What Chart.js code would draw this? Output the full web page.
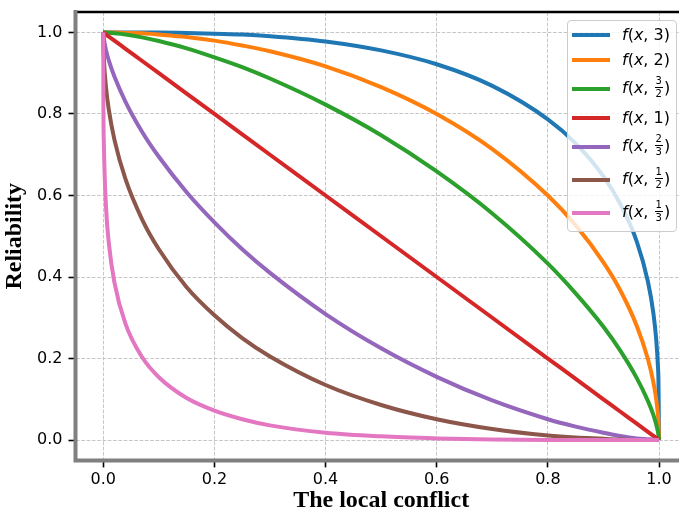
<!DOCTYPE html>
<html>
<head>
<meta charset="utf-8">
<title>Reliability vs local conflict</title>
<script src="https://cdn.jsdelivr.net/npm/chart.js@4.4.0/dist/chart.umd.min.js"></script>
<style>
    html, body { margin: 0; padding: 0; background: #fff; overflow: hidden; }
    #wrap { position: relative; width: 679px; height: 513px; overflow: hidden; }
    #plot { position: absolute; left: 0; top: 0; }
    .legend {
        position: absolute; left: 567px; top: 20px; width: 110px; height: 212px;
        box-sizing: border-box; border: 1px solid #cccccc; border-radius: 4px;
        background: rgba(255, 255, 255, 0.8); padding-top: 1px;
        font-family: "DejaVu Sans", sans-serif; font-size: 16px; color: #000;
    }
    .legend .row { display: flex; align-items: center; height: 25px; }
    .legend .row.tall { height: 33px; }
    .legend .swatch { width: 38px; height: 4px; margin-left: 4px; margin-right: 12px; }
    .legend .label { white-space: nowrap; line-height: 1; }
    .legend i { font-style: italic; }
    .frac {
        display: inline-flex; flex-direction: column; align-items: center;
        font-size: 10px; line-height: 1; vertical-align: middle; margin: 0 1px;
        position: relative; top: -1px;
    }
    .frac .num { border-bottom: 1px solid #000; padding: 0 1px 1px; }
    .frac .den { padding-top: 1px; }
</style>
</head>
<body>
<div id="wrap">
    <canvas id="plot" width="690" height="513"></canvas>
    <div class="legend" id="legend"></div>
</div>
<script>
// Sample positions along the local conflict axis
const conflictX = [0, 0.0002, 0.001, 0.005, 0.01, 0.02, 0.04, 0.07, 0.1, 0.15, 0.2, 0.25, 0.3,
    0.4, 0.5, 0.6, 0.7, 0.8, 0.85, 0.9, 0.93, 0.96, 0.98, 0.99, 0.995, 0.998, 0.999, 1];

// Reliability curves, one per parameter
const relK3 = [1, 1, 1, 1, 1, 1, 1, 1, 1, 0.999, 0.997, 0.995, 0.991, 0.978, 0.956, 0.922,
    0.869, 0.787, 0.728, 0.647, 0.580, 0.487, 0.389, 0.310, 0.246, 0.182, 0.144, 0];
const relK2 = [1, 1, 1, 1, 1, 1, 0.999, 0.998, 0.995, 0.989, 0.980, 0.968, 0.954, 0.917, 0.866,
    0.800, 0.714, 0.600, 0.527, 0.436, 0.368, 0.280, 0.199, 0.141, 0.100, 0.063, 0.045, 0];
const relK3over2 = [1, 1, 1, 1, 0.999, 0.998, 0.995, 0.988, 0.979, 0.961, 0.939, 0.915, 0.887,
    0.823, 0.748, 0.659, 0.556, 0.433, 0.360, 0.278, 0.220, 0.152, 0.096, 0.061, 0.038, 0.021, 0.013, 0];
const relK1 = [1, 1, 0.999, 0.995, 0.99, 0.98, 0.96, 0.93, 0.9, 0.85, 0.8, 0.75, 0.7, 0.6, 0.5,
    0.4, 0.3, 0.2, 0.15, 0.1, 0.07, 0.04, 0.02, 0.01, 0.005, 0.002, 0.001, 0];
const relK2over3 = [1, 0.995, 0.985, 0.956, 0.931, 0.892, 0.830, 0.756, 0.695, 0.608, 0.534,
    0.468, 0.410, 0.309, 0.225, 0.155, 0.097, 0.051, 0.033, 0.018, 0.010, 0.004, 0.002, 0.001, 0, 0, 0, 0];
const relK1over2 = [1, 0.972, 0.938, 0.864, 0.810, 0.737, 0.640, 0.541, 0.468, 0.375, 0.306,
    0.250, 0.205, 0.135, 0.086, 0.051, 0.027, 0.011, 0.006, 0.003, 0.001, 0, 0, 0, 0, 0, 0, 0];
const relK1over3 = [1, 0.835, 0.729, 0.570, 0.483, 0.387, 0.285, 0.203, 0.154, 0.103, 0.072,
    0.051, 0.036, 0.018, 0.009, 0.004, 0.001, 0, 0, 0, 0, 0, 0, 0, 0, 0, 0, 0];

const seriesValues = [relK3, relK2, relK3over2, relK1, relK2over3, relK1over2, relK1over3];
const seriesParams = ['3', '2', '3/2', '1', '2/3', '1/2', '1/3'];
const seriesColors = ['#1f77b4', '#ff7f0e', '#2ca02c', '#d62728', '#9467bd', '#8c564b', '#e377c2'];

const xTicks = [0, 0.2, 0.4, 0.6, 0.8, 1.0];
const yTicks = [0, 0.2, 0.4, 0.6, 0.8, 1.0];

/**
 * Draws the axes frame: thin black top edge, thick grey left and bottom edges
 */
const spinesPlugin = {
    id: 'spines',
    afterDraw(chart) {
        const { ctx, chartArea: a } = chart;
        ctx.save();
        ctx.lineCap = 'butt';
        ctx.lineJoin = 'miter';
        ctx.strokeStyle = '#000';
        ctx.lineWidth = 2.5;
        ctx.beginPath();
        ctx.moveTo(a.left, a.top);
        ctx.lineTo(a.right + 2, a.top);
        ctx.stroke();

        ctx.strokeStyle = '#808080';
        ctx.lineWidth = 4;
        ctx.beginPath();
        ctx.moveTo(a.left, a.top - 2);
        ctx.lineTo(a.left, a.bottom);
        ctx.lineTo(a.right + 2, a.bottom);
        ctx.stroke();
        ctx.restore();
    }
};

/**
 * Builds the legend entries, stacking fractional parameters
 */
function renderLegend() {
    const box = document.getElementById('legend');
    seriesParams.forEach((param, i) => {
        const row = document.createElement('div');
        const isFrac = param.includes('/');
        row.className = isFrac ? 'row tall' : 'row';

        const swatch = document.createElement('div');
        swatch.className = 'swatch';
        swatch.style.background = seriesColors[i];
        row.appendChild(swatch);

        const label = document.createElement('span');
        label.className = 'label';
        let paramHtml = param;
        if (isFrac) {
            const [num, den] = param.split('/');
            paramHtml = `<span class="frac"><span class="num">${num}</span><span class="den">${den}</span></span>`;
        }
        label.innerHTML = `<i>f</i>(<i>x</i>, ${paramHtml})`;
        row.appendChild(label);
        box.appendChild(row);
    });
}

const tickFont = { family: 'DejaVu Sans', size: 16 };
const titleFont = { family: 'Liberation Serif', size: 24, weight: 'bold', lineHeight: 1 };

const datasets = seriesValues.map((values, i) => ({
    label: `f(x, ${seriesParams[i]})`,
    data: conflictX.map((x, j) => ({ x: x, y: values[j] })),
    borderColor: seriesColors[i],
    backgroundColor: seriesColors[i],
    borderWidth: 4,
    borderJoinStyle: 'round',
    pointRadius: 0,
    cubicInterpolationMode: 'monotone',
    fill: false,
    // later series sit on top
    order: seriesValues.length - i
}));

// Keep the plot box fixed: no extra room reserved for edge tick labels
function dropLabelPadding(scale) {
    scale.paddingTop = 0;
    scale.paddingBottom = 0;
    scale.paddingLeft = 0;
    scale.paddingRight = 0;
}

new Chart(document.getElementById('plot').getContext('2d'), {
    type: 'line',
    data: { datasets: datasets },
    plugins: [spinesPlugin],
    options: {
        responsive: false,
        animation: false,
        devicePixelRatio: 1,
        layout: { padding: { left: 0, right: 3.2, top: 12.1, bottom: 0 } },
        plugins: {
            legend: { display: false },
            tooltip: { enabled: false }
        },
        scales: {
            x: {
                type: 'linear',
                min: -0.05,
                max: 1.05,
                afterBuildTicks: (scale) => { scale.ticks = xTicks.map(v => ({ value: v })); },
                afterFit: (scale) => { scale.height = 52.6; dropLabelPadding(scale); },
                grid: { color: '#c6c6c6', lineWidth: 1, tickLength: 7, tickColor: '#000', tickWidth: 1.6 },
                border: { display: false, dash: [3.7, 1.6] },
                ticks: {
                    font: tickFont, color: '#000', padding: 3, maxRotation: 0,
                    callback: (v) => Number(v).toFixed(1)
                },
                title: {
                    display: true, text: 'The local conflict', color: '#000',
                    font: titleFont, padding: { top: 0, bottom: 0 }
                }
            },
            y: {
                type: 'linear',
                min: -0.05,
                max: 1.05,
                afterBuildTicks: (scale) => { scale.ticks = yTicks.map(v => ({ value: v })); },
                afterFit: (scale) => { scale.width = 75.5; dropLabelPadding(scale); },
                grid: { color: '#c6c6c6', lineWidth: 1, tickLength: 7, tickColor: '#000', tickWidth: 1.6 },
                border: { display: false, dash: [3.7, 1.6] },
                ticks: {
                    font: tickFont, color: '#000', padding: 6,
                    callback: (v) => Number(v).toFixed(1)
                },
                title: {
                    display: true, text: 'Reliability', color: '#000',
                    font: titleFont, padding: { top: 3, bottom: 0 }
                }
            }
        }
    }
});

renderLegend();
</script>
</body>
</html>
